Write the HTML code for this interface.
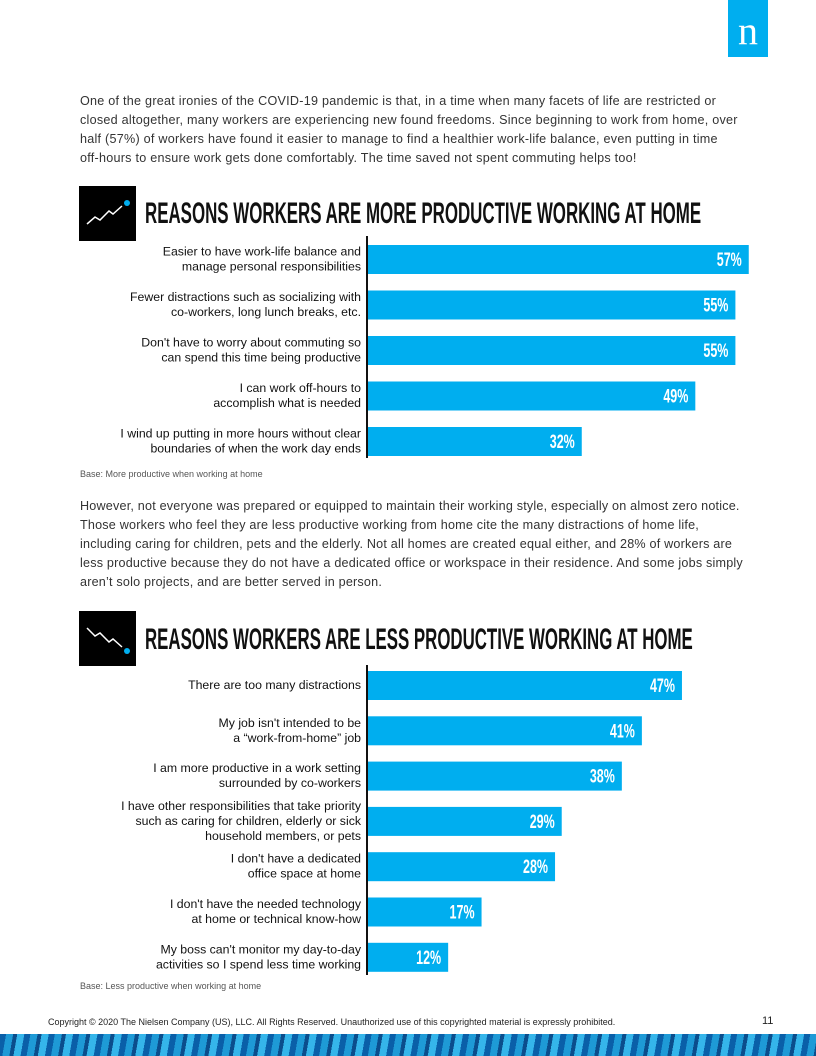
<!DOCTYPE html>
<html><head><meta charset="utf-8"><style>
body{margin:0;width:816px;height:1056px;position:relative;background:#fff;font-family:"Liberation Sans",sans-serif;overflow:hidden}
.p{position:absolute;left:80px;width:660px;font-size:12.6px;letter-spacing:0.25px;line-height:19px;color:#333}
.title{position:absolute;left:145px;font-family:"Liberation Sans Narrow","Liberation Sans",sans-serif;font-size:30px;font-weight:bold;color:#111;white-space:nowrap;transform-origin:left top}
.icon{position:absolute;left:79px;width:57px;height:55px;background:#000}
.base{position:absolute;left:80px;font-size:9px;color:#555}
</style></head><body>
<div style="position:absolute;left:728px;top:0;width:40px;height:57px;background:#00aeef;color:#fff;font-family:'Liberation Serif',serif;font-size:40px;text-align:center;line-height:62px">n</div>
<div class="p" style="top:92px">One of the great ironies of the COVID-19 pandemic is that, in a time when many facets of life are restricted or closed altogether, many workers are experiencing new found freedoms. Since beginning to work from home, over half (57%) of workers have found it easier to manage to find a healthier work-life balance, even putting in time off-hours to ensure work gets done comfortably. The time saved not spent commuting helps too!</div>
<div class="icon" style="top:186px"><svg width="57" height="55"><polyline points="8,38 16,31 21,34 30,25 34,28 43,20" fill="none" stroke="#fff" stroke-width="1.5"/><circle cx="48" cy="17" r="3" fill="#00aeef"/></svg></div>
<div class="title" id="t1" style="top:197px">REASONS WORKERS ARE MORE PRODUCTIVE WORKING AT HOME</div>
<svg id="c1" style="position:absolute;left:0;top:0" width="816" height="1056"></svg>
<div class="base" style="top:469px">Base: More productive when working at home</div>
<div class="p" style="top:497px;width:668px;letter-spacing:0.2px">However, not everyone was prepared or equipped to maintain their working style, especially on almost zero notice. Those workers who feel they are less productive working from home cite the many distractions of home life, including caring for children, pets and the elderly. Not all homes are created equal either, and 28% of workers are less productive because they do not have a dedicated office or workspace in their residence. And some jobs simply aren’t solo projects, and are better served in person.</div>
<div class="icon" style="top:611px"><svg width="57" height="55"><polyline points="8,17 16,25 21,22 30,31 34,28 43,36" fill="none" stroke="#fff" stroke-width="1.5"/><circle cx="48" cy="40" r="3" fill="#00aeef"/></svg></div>
<div class="title" id="t2" style="top:623px">REASONS WORKERS ARE LESS PRODUCTIVE WORKING AT HOME</div>
<div class="base" style="top:981px">Base: Less productive when working at home</div>
<div style="position:absolute;left:48px;top:1017px;font-size:9px;color:#222">Copyright © 2020 The Nielsen Company (US), LLC. All Rights Reserved. Unauthorized use of this copyrighted material is expressly prohibited.</div>
<div style="position:absolute;left:762px;top:1015px;font-size:11px;color:#222">11</div>
<div style="position:absolute;left:0;top:1034px;width:816px;height:22px;background:repeating-linear-gradient(100deg,#0a5fa8 0 6px,#1e9ad6 6px 13px,#0b4d8c 13px 17px,#35b5ea 17px 24px)"></div>
<script>
const labels1=[["Easier to have work-life balance and","manage personal responsibilities"],["Fewer distractions such as socializing with","co-workers, long lunch breaks, etc."],["Don't have to worry about commuting so","can spend this time being productive"],["I can work off-hours to","accomplish what is needed"],["I wind up putting in more hours without clear","boundaries of when the work day ends"]];
const values1=[57,55,55,49,32];
const labels2=[["There are too many distractions"],["My job isn't intended to be","a “work-from-home” job"],["I am more productive in a work setting","surrounded by co-workers"],["I have other responsibilities that take priority","such as caring for children, elderly or sick","household members, or pets"],["I don't have a dedicated","office space at home"],["I don't have the needed technology","at home or technical know-how"],["My boss can't monitor my day-to-day","activities so I spend less time working"]];
const values2=[47,41,38,29,28,17,12];
function fit(id,w){const e=document.getElementById(id);const s=w/e.offsetWidth;e.style.transform='scale('+s+',1)';}
fit('t1',556);fit('t2',548);
const NS="http://www.w3.org/2000/svg";
const svg=document.getElementById('c1');
const x0=368,pxPer=6.68;
function xs(v){return x0+v*pxPer;}
function mk(t,a){const e=document.createElementNS(NS,t);for(const k in a)e.setAttribute(k,a[k]);svg.appendChild(e);return e;}
function chart(labels,values,top,step,axTop,axBot,pref){
  const ax=mk('line',{x1:367,x2:367,y1:axTop,y2:axBot,stroke:'#111','stroke-width':2});
  
  
  values.forEach((v,i)=>{
    const cy=top+i*step;
    const r=mk('rect',{x:x0,y:cy-14,width:xs(v)-x0,height:29,fill:'#00aeef'});
    
    
    const t=mk('text',{x:xs(v)-7,y:cy+7,'text-anchor':'end',fill:'#fff','font-family':'Liberation Sans, sans-serif','font-size':19,'font-weight':'bold',textLength:25,lengthAdjust:'spacingAndGlyphs'});
    t.textContent=v+'%';
    
    
    const L=labels[i],n=L.length;
    L.forEach((s,j)=>{
      const lt=mk('text',{x:361,y:cy+4+(j-(n-1)/2)*15,'text-anchor':'end',fill:'#111','font-family':'Liberation Sans, sans-serif','font-size':12.3});
      lt.textContent=s;
      
      
    });
  });
}
chart(labels1,values1,259,45.5,236,458,'more');
chart(labels2,values2,685,45.3,665,975,'less');
</script>
</body></html>
